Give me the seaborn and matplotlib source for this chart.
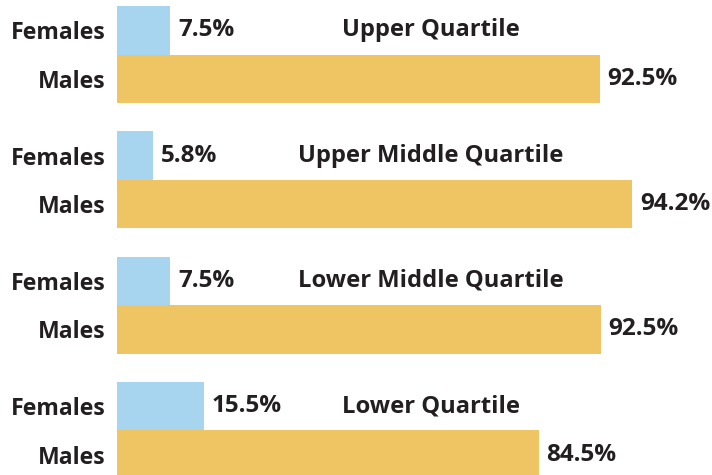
import pandas as pd
import matplotlib.pyplot as plt
import matplotlib.transforms as mtransforms
import seaborn as sns

# ---------------------------------------------------------------------------
# Data (bar lengths as drawn in the source graphic, labels as printed)
# ---------------------------------------------------------------------------

quartiles = ["Upper Quartile", "Upper Middle Quartile", "Lower Middle Quartile", "Lower Quartile"]
sexes = ["Females", "Males"]
female_len = [10.2, 6.9, 10.2, 16.7]
male_len = [92.5, 98.7, 92.7, 80.8]
female_labels = ["7.5%", "5.8%", "7.5%", "15.5%"]
male_labels = ["92.5%", "94.2%", "92.5%", "84.5%"]

COLOR_F = "#A7D5F0"
COLOR_M = "#EFC462"
TEXT = "#231F20"

sns.set_style("white")
plt.rcParams["font.family"] = ["Open Sans", "DejaVu Sans"]

W, H = 712, 475
fig = plt.figure(figsize=(W / 100, H / 100), dpi=100)

left_px, width_px = 117, 595
px_per_unit = 5.22
step_px, top_px, group_h = 125.3, 6, 97

for i, q in enumerate(quartiles):
    df = pd.DataFrame({"sex": sexes, "value": [female_len[i], male_len[i]]})
    bottom_px = top_px + i * step_px + group_h
    ax = fig.add_axes([left_px / W, 1 - bottom_px / H, width_px / W, group_h / H])
    sns.barplot(data=df, y="sex", x="value", hue="sex", order=sexes, hue_order=sexes,
                palette=[COLOR_F, COLOR_M], width=1, legend=False, saturation=1,
                linewidth=0, edgecolor="none", ax=ax)
    ax.set_xlim(0, width_px / px_per_unit)
    ax.set_ylim(1.5, -0.5)
    ax.set_xlabel("")
    ax.set_ylabel("")
    ax.set_xticks([])
    sns.despine(ax=ax, left=True, bottom=True)
    ax.tick_params(axis="y", length=0, pad=8.5, labelsize=16.6, labelcolor=TEXT)
    for lbl in ax.get_yticklabels():
        lbl.set_fontweight("bold")

    for cont, labels in zip(ax.containers, [female_labels, male_labels]):
        ax.bar_label(cont, labels=[labels[i]], padding=5.5, fontsize=17.5,
                     fontweight="bold", color=TEXT, clip_on=False)

    # quartile title sits on the Females row, centred over the chart
    trans = mtransforms.blended_transform_factory(ax.transAxes, ax.transData)
    ax.text(0.528, 0, q, transform=trans, ha="center", va="center",
            fontsize=17.1, fontweight="bold", color=TEXT)

fig.savefig("out.png", dpi=100)
